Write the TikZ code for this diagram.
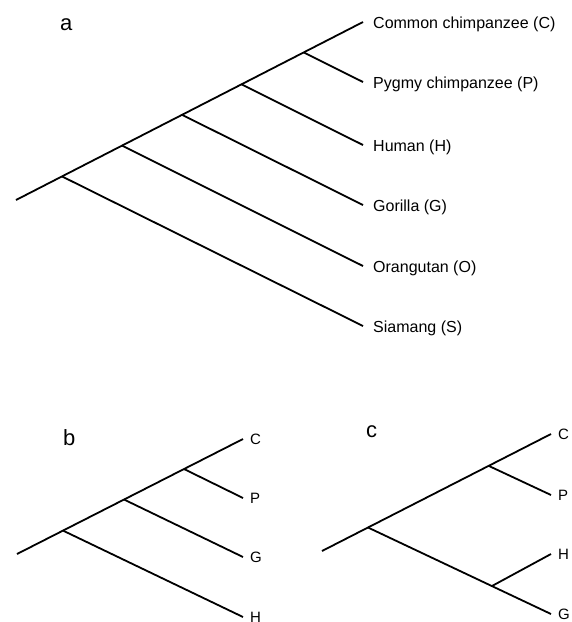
\documentclass[tikz,border=0pt]{standalone}
\usepackage{fontspec}
\setmainfont{Liberation Sans}
\begin{document}
\begin{tikzpicture}[x=1pt,y=-1pt,
  branch/.style={line width=1.8pt},
  leaf/.style={anchor=base west,inner sep=0pt,font=\fontsize{16}{19}\selectfont},
  sleaf/.style={anchor=base west,inner sep=0pt,font=\fontsize{15}{18}\selectfont},
  panel/.style={anchor=base west,inner sep=0pt,font=\fontsize{22}{26}\selectfont}]
\useasboundingbox (0,0) rectangle (572,622);
% ---------- panel a ----------
\node[panel] (la) at (60,30) {a};
\coordinate (a0) at (16,200);
\coordinate (a1) at (62,176.4);
\coordinate (a2) at (122,145.6);
\coordinate (a3) at (182,114.8);
\coordinate (a4) at (241.5,84.3);
\coordinate (a5) at (303.7,52.4);
\coordinate (aC) at (363,22);
\coordinate (aP) at (363,82);
\coordinate (aH) at (363,145);
\coordinate (aG) at (363,205);
\coordinate (aO) at (363,266);
\coordinate (aS) at (363,326);
\draw[branch] (a0) -- (aC);
\draw[branch] (a5) -- (aP);
\draw[branch] (a4) -- (aH);
\draw[branch] (a3) -- (aG);
\draw[branch] (a2) -- (aO);
\draw[branch] (a1) -- (aS);
\node[leaf] (tC) at ([shift={(10,6)}]aC) {Common chimpanzee (C)};
\node[leaf] (tP) at ([shift={(10,6)}]aP) {Pygmy chimpanzee (P)};
\node[leaf] (tH) at ([shift={(10,6)}]aH) {Human (H)};
\node[leaf] (tG) at ([shift={(10,6)}]aG) {Gorilla (G)};
\node[leaf] (tO) at ([shift={(10,6)}]aO) {Orangutan (O)};
\node[leaf] (tS) at ([shift={(10,6)}]aS) {Siamang (S)};
% ---------- panel b ----------
\node[panel] (lb) at (63,445) {b};
\coordinate (b0) at (17,554);
\coordinate (b1) at (63,530.6);
\coordinate (b2) at (124,499.5);
\coordinate (b3) at (184,469);
\coordinate (bC) at (243,439);
\coordinate (bP) at (243,498);
\coordinate (bG) at (243,557);
\coordinate (bH) at (243,617);
\draw[branch] (b0) -- (bC);
\draw[branch] (b3) -- (bP);
\draw[branch] (b2) -- (bG);
\draw[branch] (b1) -- (bH);
\node[sleaf] (ubC) at ([shift={(7,5.4)}]bC) {C};
\node[sleaf] (ubP) at ([shift={(7,5.4)}]bP) {P};
\node[sleaf] (ubG) at ([shift={(7,5.4)}]bG) {G};
\node[sleaf] (ubH) at ([shift={(7,5.4)}]bH) {H};
% ---------- panel c ----------
\node[panel] (lc) at (366,437) {c};
\coordinate (c0) at (322,551);
\coordinate (c1) at (368,527.5);
\coordinate (c2) at (489,466);
\coordinate (c3) at (492,586);
\coordinate (cC) at (551,434);
\coordinate (cP) at (551,495);
\coordinate (cH) at (551,554);
\coordinate (cG) at (551,614);
\draw[branch] (c0) -- (cC);
\draw[branch] (c2) -- (cP);
\draw[branch] (c1) -- (cG);
\draw[branch] (c3) -- (cH);
\node[sleaf] (ucC) at ([shift={(7,5.4)}]cC) {C};
\node[sleaf] (ucP) at ([shift={(7,5.4)}]cP) {P};
\node[sleaf] (ucH) at ([shift={(7,5.4)}]cH) {H};
\node[sleaf] (ucG) at ([shift={(7,5.4)}]cG) {G};
\end{tikzpicture}
\end{document}
